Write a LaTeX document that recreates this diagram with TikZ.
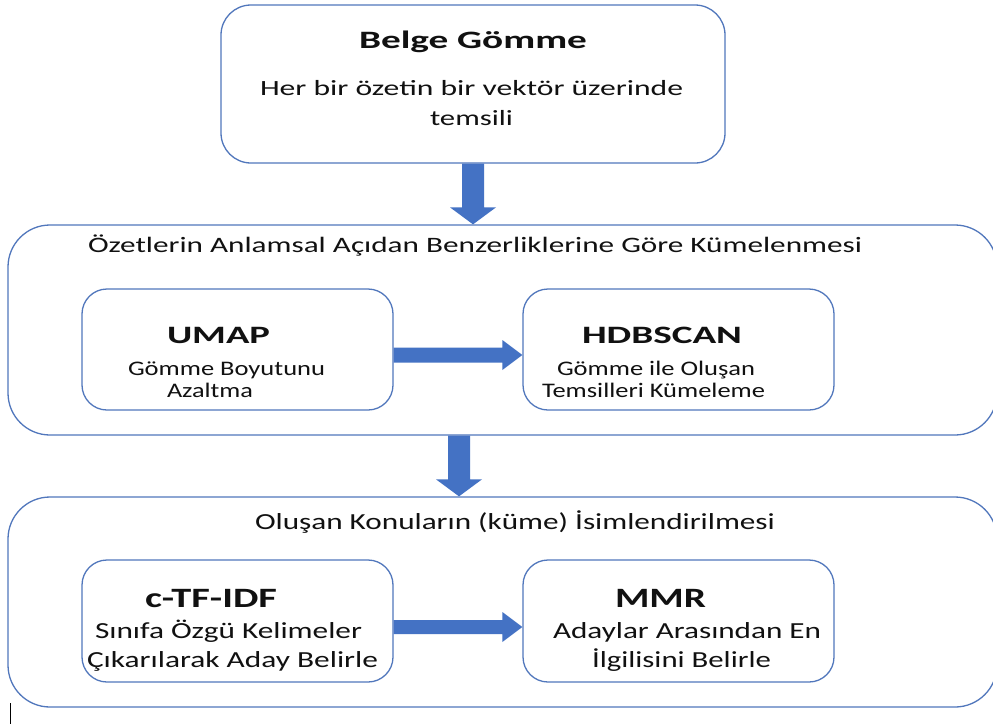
\documentclass[tikz,border=0pt]{standalone}
\usepackage{fontspec}
\setmainfont{Carlito}
\usepackage{graphicx}
\usetikzlibrary{calc}
\definecolor{boxline}{HTML}{5177BC}
\definecolor{arrowfill}{HTML}{4472C4}
\definecolor{txtcol}{HTML}{111111}
\newlength\fitlen
\newcommand\fitto[2]{\settowidth\fitlen{#2}\pgfmathsetmacro\fitfac{#1/\fitlen}\scalebox{\fitfac}[1]{#2}}
% vertical block arrow: start, tip, half shaft, half head, head length
\newcommand\vblock[5]{\fill[arrowfill] let \p1=(#1), \p2=(#2) in
  (\x1-#3,\y1) -- (\x1-#3,\y2+#5) -- (\x1-#4,\y2+#5) -- (\x1,\y2) --
  (\x1+#4,\y2+#5) -- (\x1+#3,\y2+#5) -- (\x1+#3,\y1) -- cycle;}
% horizontal block arrow: start, tip, half shaft, half head, head length
\newcommand\hblock[5]{\fill[arrowfill] let \p1=(#1), \p2=(#2) in
  (\x1,\y1+#3) -- (\x2-#5,\y1+#3) -- (\x2-#5,\y1+#4) -- (\x2,\y1) --
  (\x2-#5,\y1-#4) -- (\x2-#5,\y1-#3) -- (\x1,\y1-#3) -- cycle;}
\tikzset{
  box/.style={draw=boxline, line width=1.3pt, rounded corners=#1, fill=white, inner sep=0pt},
  txt/.style={anchor=base, inner sep=0pt, text=txtcol},
  fa/.style={font=\fontsize{25}{30}\selectfont\bfseries},
  fb/.style={font=\fontsize{21.7}{26}\selectfont},
  fc/.style={font=\fontsize{22}{26}\selectfont},
  fd/.style={font=\fontsize{20.7}{24}\selectfont},
  fe/.style={font=\fontsize{28}{32}\selectfont\bfseries},
  ff/.style={font=\fontsize{23}{27}\selectfont},
}
\begin{document}
\begin{tikzpicture}[x=1pt,y=-1pt]
\path[use as bounding box, fill=white] (0,0) rectangle (993,724);
% boxes
\node[box=42pt, minimum width=989pt, minimum height=210pt] (mid) at (502.5,330) {};
\node[box=42pt, minimum width=989pt, minimum height=210pt] (bot) at (502.5,602) {};
\node[box=30pt, minimum width=504pt, minimum height=158pt] (top) at (473,84) {};
\node[box=25pt, minimum width=311pt, minimum height=121pt] (umap) at (237.5,349.5) {};
\node[box=25pt, minimum width=311pt, minimum height=121pt] (hdb) at (678.5,349.5) {};
\node[box=25pt, minimum width=311pt, minimum height=122pt] (ctf) at (237.5,621) {};
\node[box=25pt, minimum width=311pt, minimum height=122pt] (mmr) at (678.5,621) {};
% texts
\node[txt, fa] (t1) at (473,48) {\fitto{228pt}{Belge Gömme}};
\node[txt, fb] (t2) at (471.5,95) {\fitto{423pt}{Her bir özetin bir vektör üzerinde}};
\node[txt, fb] (t3) at (471.5,125) {\fitto{83pt}{temsili}};
\node[txt, fc] (m0) at (475,252) {\fitto{774pt}{Özetlerin Anlamsal Açıdan Benzerliklerine Göre Kümelenmesi}};
\node[txt, fa] (u1) at (218.5,343) {\fitto{103pt}{UMAP}};
\node[txt, fd] (u2) at (226.5,375) {\fitto{197pt}{Gömme Boyutunu}};
\node[txt, fd] (u3) at (210,397) {\fitto{86pt}{Azaltma}};
\node[txt, fa] (h1) at (662,343) {\fitto{160pt}{HDBSCAN}};
\node[txt, fd] (h2) at (656,375) {\fitto{198pt}{Gömme ile Oluşan}};
\node[txt, fd] (h3) at (653.5,397) {\fitto{223pt}{Temsilleri Kümeleme}};
\node[txt, ff] (b0) at (515,529) {\fitto{520pt}{Oluşan Konuların (küme) İsimlendirilmesi}};
\node[txt, fe] (c1) at (211,607) {\fitto{132pt}{c-TF-IDF}};
\node[txt, ff] (c2) at (228.5,638) {\fitto{267pt}{Sınıfa Özgü Kelimeler}};
\node[txt, ff] (c3) at (232.5,667) {\fitto{291pt}{Çıkarılarak Aday Belirle}};
\node[txt, fe] (r1) at (660.5,607) {\fitto{91pt}{MMR}};
\node[txt, ff] (r2) at (687,638) {\fitto{268pt}{Adaylar Arasından En}};
\node[txt, ff] (r3) at (681.5,667) {\fitto{179pt}{İlgilisini Belirle}};
% arrows
\coordinate (a1s) at (top.south);
\coordinate (a2s) at ($(mid.south)+(-43.5,0)$);
\coordinate (h1s) at ($(umap.east)+(0,5.5)$);
\coordinate (h2s) at ($(ctf.east)+(0,6)$);
\vblock{a1s}{a1s |- mid.north}{11pt}{23pt}{17pt}
\vblock{a2s}{a2s |- bot.north}{11pt}{23pt}{17pt}
\hblock{h1s}{h1s -| hdb.west}{7.5pt}{15pt}{20pt}
\hblock{h2s}{h2s -| mmr.west}{7pt}{15pt}{20pt}
% text cursor mark
\draw[black, line width=0.9pt] (10,703) -- (10,724);
\end{tikzpicture}
\end{document}
